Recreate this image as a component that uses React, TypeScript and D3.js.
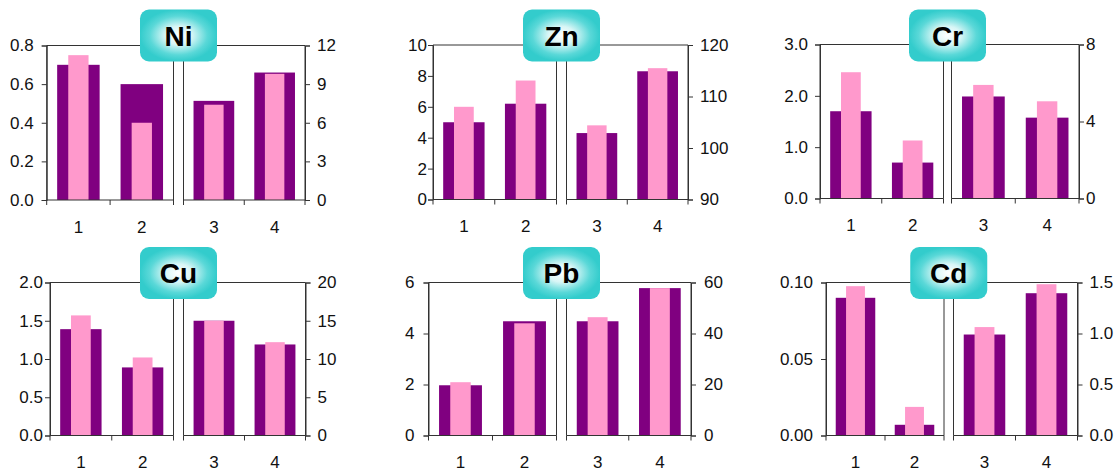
import React, { useEffect, useRef } from "react";
import * as d3 from "d3";

// data, one pair of arrays per element (purple = series A, pink = series B)
// categories 1,2 read on the left axis, 3,4 on the right axis
const categories = ["1", "2", "3", "4"];
const elements = ["Ni", "Zn", "Cr", "Cu", "Pb", "Cd"];

const niA = [0.70, 0.60, 7.7, 9.9];
const niB = [0.75, 0.40, 7.4, 9.8];
const znA = [5.0, 6.2, 102.9, 114.9];
const znB = [6.0, 7.7, 104.4, 115.5];
const crA = [1.70, 0.70, 5.3, 4.2];
const crB = [2.46, 1.13, 5.9, 5.05];
const cuA = [1.39, 0.89, 15.0, 11.9];
const cuB = [1.57, 1.02, 15.0, 12.2];
const pbA = [1.97, 4.48, 44.8, 57.8];
const pbB = [2.09, 4.40, 46.4, 57.8];
const cdA = [0.090, 0.007, 0.99, 1.395];
const cdB = [0.0976, 0.0187, 1.063, 1.483];

const seriesA = [niA, znA, crA, cuA, pbA, cdA];
const seriesB = [niB, znB, crB, cuB, pbB, cdB];

const leftDomains = [[0, 0.8], [0, 10], [0, 3], [0, 2], [0, 6], [0, 0.1]];
const rightDomains = [[0, 12], [90, 120], [0, 8], [0, 20], [0, 60], [0, 1.5]];
const leftTicks = [
  [0, 0.2, 0.4, 0.6, 0.8],
  [0, 2, 4, 6, 8, 10],
  [0, 1, 2, 3],
  [0, 0.5, 1, 1.5, 2],
  [0, 2, 4, 6],
  [0, 0.05, 0.1],
];
const rightTicks = [
  [0, 3, 6, 9, 12],
  [90, 100, 110, 120],
  [0, 4, 8],
  [0, 5, 10, 15, 20],
  [0, 20, 40, 60],
  [0, 0.5, 1, 1.5],
];
const leftFormats = [".1f", "d", ".1f", ".1f", "d", ".2f"];
const rightFormats = ["d", "d", "d", "d", "d", ".1f"];

// layout (pixels) for each panel
const layout = [
  { lx0: 46.7, lx1: 173.5, rx0: 183.5, rx1: 305, y0: 45.5, y1: 200, lgap: 13, rgap: 12 },
  { lx0: 433, lx1: 556.5, rx0: 566.5, rx1: 688, y0: 45, y1: 199.5, lgap: 6, rgap: 12 },
  { lx0: 820, lx1: 943.5, rx0: 951.5, rx1: 1079, y0: 44.5, y1: 198.5, lgap: 12, rgap: 7 },
  { lx0: 50, lx1: 173.5, rx0: 183.5, rx1: 305.5, y0: 282.5, y1: 435.5, lgap: 7, rgap: 12 },
  { lx0: 428.5, lx1: 556.5, rx0: 566.5, rx1: 691, y0: 282.5, y1: 435.5, lgap: 14, rgap: 13 },
  { lx0: 826, lx1: 944, rx0: 953.5, rx1: 1077.5, y0: 282.5, y1: 435.5, lgap: 13, rgap: 12 },
];
const badgeY = [9.5, 9.5, 9.5, 247, 247, 247];

const PURPLE = "#800080";
const PINK = "#FF99CC";
const LINE = "#333333";
const FONT = "'Liberation Sans', Arial, sans-serif";
const FS = 17;

export default function App() {
  const svgRef = useRef<SVGSVGElement>(null);

  useEffect(() => {
    const svg = d3.select(svgRef.current);
    svg.selectAll("*").remove();

    const defs = svg.append("defs");
    const grad = defs.append("radialGradient").attr("id", "badgeGrad")
      .attr("cx", "50%").attr("cy", "50%").attr("r", "50%");
    grad.append("stop").attr("offset", "0%").attr("stop-color", "#ffffff");
    grad.append("stop").attr("offset", "35%").attr("stop-color", "#d8f6f6");
    grad.append("stop").attr("offset", "75%").attr("stop-color", "#5ad8d8");
    grad.append("stop").attr("offset", "100%").attr("stop-color", "#33cccc");

    elements.forEach((name, i) => {
      const L = layout[i];
      const g = svg.append("g");

      const halves = [
        { cats: categories.slice(0, 2), vals: [0, 1], x0: L.lx0, x1: L.lx1, dom: leftDomains[i], side: "left" },
        { cats: categories.slice(2, 4), vals: [2, 3], x0: L.rx0, x1: L.rx1, dom: rightDomains[i], side: "right" },
      ];

      halves.forEach((h) => {
        const x = d3.scaleBand().domain(h.cats).range([h.x0, h.x1]).padding(0);
        const y = d3.scaleLinear().domain(h.dom).range([L.y1, L.y0]);
        const bw = x.bandwidth();
        const wA = bw * 0.67;
        const wB = bw * 0.32;

        // purple bars
        g.append("g").selectAll("rect")
          .data(h.vals)
          .join("rect")
          .attr("x", (k) => x(categories[k])! + (bw - wA) / 2)
          .attr("width", wA)
          .attr("y", (k) => y(seriesA[i][k]))
          .attr("height", (k) => L.y1 - y(seriesA[i][k]))
          .attr("fill", PURPLE);
        // pink bars
        g.append("g").selectAll("rect")
          .data(h.vals)
          .join("rect")
          .attr("x", (k) => x(categories[k])! + (bw - wB) / 2)
          .attr("width", wB)
          .attr("y", (k) => y(seriesB[i][k]))
          .attr("height", (k) => L.y1 - y(seriesB[i][k]))
          .attr("fill", PINK);

        // frame: top line + both sides
        g.append("path")
          .attr("d", `M${h.x0},${L.y0}H${h.x1}M${h.x0},${L.y0}V${L.y1}M${h.x1},${L.y0}V${L.y1}`)
          .attr("fill", "none").attr("stroke", LINE).attr("stroke-width", 1);

        // x axis with ticks on band edges
        const xAxis = g.append("g").attr("transform", `translate(0,${L.y1})`);
        xAxis.append("path").attr("d", `M${h.x0},0H${h.x1}`).attr("stroke", LINE).attr("fill", "none");
        const edges = [h.x0, (h.x0 + h.x1) / 2, h.x1];
        xAxis.selectAll("line.tk").data(edges).join("line")
          .attr("x1", (d) => d).attr("x2", (d) => d)
          .attr("y1", 0).attr("y2", 5)
          .attr("stroke", LINE);
        xAxis.selectAll("text").data(h.cats).join("text")
          .attr("x", (c) => x(c)! + bw / 2)
          .attr("y", 27)
          .attr("dy", "0.35em")
          .attr("text-anchor", "middle")
          .style("font-family", FONT).style("font-size", FS + "px").attr("fill", "#111")
          .text((c) => c);

        // y axis
        const isLeft = h.side === "left";
        const ticks = isLeft ? leftTicks[i] : rightTicks[i];
        const fmt = d3.format(isLeft ? leftFormats[i] : rightFormats[i]);
        const axis = (isLeft ? d3.axisLeft(y) : d3.axisRight(y))
          .tickValues(ticks)
          .tickSize(5)
          .tickPadding(isLeft ? L.lgap - 5 : L.rgap - 5)
          .tickFormat((d) => fmt(d as number));
        const ya = g.append("g")
          .attr("transform", `translate(${isLeft ? h.x0 : h.x1},0)`)
          .call(axis);
        ya.select(".domain").attr("stroke", LINE);
        ya.selectAll(".tick line").attr("stroke", LINE);
        ya.selectAll("text")
          .style("font-family", FONT).style("font-size", FS + "px").attr("fill", "#111");
      });

      // title badge centred over the gap between halves
      const bx = (L.lx1 + L.rx0) / 2;
      const bwid = 77;
      const bh = 52;
      const badge = g.append("g").attr("transform", `translate(${bx - bwid / 2},${badgeY[i]})`);
      badge.append("rect")
        .attr("width", bwid).attr("height", bh).attr("rx", 9)
        .attr("fill", "url(#badgeGrad)");
      badge.append("text")
        .attr("x", bwid / 2).attr("y", bh / 2)
        .attr("dy", "0.36em")
        .attr("text-anchor", "middle")
        .style("font-family", FONT).style("font-weight", 900).style("font-size", "28px")
        .attr("fill", "#000")
        .text(name);
    });
  }, []);

  return (
    <svg
      ref={svgRef}
      width={1120}
      height={472}
      style={{ position: "absolute", left: 0, top: 0, background: "white" }}
    />
  );
}
